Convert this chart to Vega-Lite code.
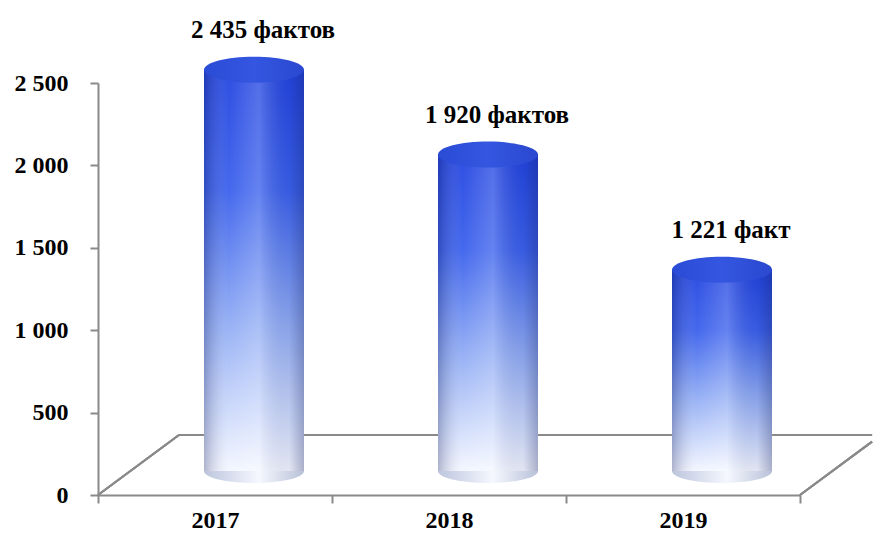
{
  "$schema": "https://vega.github.io/schema/vega-lite/v6.json",
  "width": 702,
  "height": 412,
  "padding": {"left": 14, "top": 17, "right": 0, "bottom": 0},
  "background": "white",
  "config": {"view": {"stroke": null}, "font": "Liberation Serif"},
  "data": {"values": [
    {"year": "2017", "count": 2435, "label": "2 435 фактов"},
    {"year": "2018", "count": 1920, "label": "1 920 фактов"},
    {"year": "2019", "count": 1221, "label": "1 221 факт"}
  ]},
  "layer": [
    {
      "layer": [
        {
          "mark": {"type": "rule", "color": "#8a8a8a", "strokeWidth": 2, "clip": false},
          "encoding": {
            "x": {"datum": 0, "type": "quantitative", "scale": {"domain": [0, 3], "nice": false, "zero": false}, "axis": null},
            "x2": {"datum": 0.346},
            "y": {"datum": 0, "type": "quantitative"},
            "y2": {"datum": 364}
          }
        },
        {
          "mark": {"type": "rule", "color": "#8a8a8a", "strokeWidth": 2, "clip": false},
          "encoding": {
            "x": {"datum": 0.346, "type": "quantitative", "scale": {"domain": [0, 3], "nice": false, "zero": false}, "axis": null},
            "x2": {"datum": 3.308},
            "y": {"datum": 364, "type": "quantitative"}
          }
        },
        {
          "mark": {"type": "rule", "color": "#8a8a8a", "strokeWidth": 2, "clip": false},
          "encoding": {
            "x": {"datum": 3, "type": "quantitative", "scale": {"domain": [0, 3], "nice": false, "zero": false}, "axis": null},
            "x2": {"datum": 3.308},
            "y": {"datum": 0, "type": "quantitative"},
            "y2": {"datum": 324}
          }
        }
      ]
    },
    {
      "encoding": {
        "x": {
          "field": "year", "type": "nominal",
          "scale": {"paddingInner": 0, "paddingOuter": 0},
          "axis": {
            "title": null, "labelAngle": 0, "labelFont": "Liberation Serif", "labelFontWeight": "bold",
            "labelFontSize": 24, "labelColor": "#000000", "labelPadding": 5, "tickBand": "extent",
            "tickSize": 8, "tickColor": "#8a8a8a", "tickWidth": 2, "domainColor": "#8a8a8a", "domainWidth": 2
          }
        },
        "y": {
          "field": "count", "type": "quantitative",
          "scale": {"domain": [0, 2500], "nice": false},
          "axis": {
            "title": null, "grid": false, "values": [0, 500, 1000, 1500, 2000, 2500],
            "labelExpr": "replace(format(datum.value, ','), ',', ' ')",
            "labelFont": "Liberation Serif", "labelFontWeight": "bold", "labelFontSize": 24, "labelColor": "#000000",
            "labelPadding": 22, "tickSize": 8, "tickColor": "#8a8a8a", "tickWidth": 2,
            "domainColor": "#8a8a8a", "domainWidth": 2
          }
        }
      },
      "layer": [
        {
          "mark": {
            "type": "point", "filled": true, "size": 10000, "opacity": 1, "yOffset": -24, "xOffset": 39,
            "shape": "M -1 0 A 1 0.24 0 1 1 1 0 A 1 0.24 0 1 1 -1 0 Z",
            "fill": {"gradient": "linear", "x1": 0, "y1": 0, "x2": 1, "y2": 0,
              "stops": [{"offset": 0, "color": "#bcc5dd"}, {"offset": 0.55, "color": "#f6f8ff"}, {"offset": 1, "color": "#b8c1d8"}]}
          },
          "encoding": {"y": {"datum": 0, "type": "quantitative"}}
        },
        {
          "mark": {
            "type": "bar", "size": 100, "xOffset": 39, "yOffset": -24, "y2Offset": -24,
            "color": {"gradient": "linear", "x1": 0, "y1": 0, "x2": 0, "y2": 1,
              "stops": [{"offset": 0, "color": "#2244e0"}, {"offset": 0.3, "color": "#3a60ec"}, {"offset": 0.62, "color": "#8eaaf4"}, {"offset": 1, "color": "#f4f7ff"}]}
          }
        },
        {
          "mark": {
            "type": "bar", "size": 100, "xOffset": 39, "yOffset": -24, "y2Offset": -24,
            "color": {"gradient": "linear", "x1": 0, "y1": 0, "x2": 1, "y2": 0,
              "stops": [{"offset": 0, "color": "rgba(20,30,90,0.30)"}, {"offset": 0.25, "color": "rgba(255,255,255,0.05)"}, {"offset": 0.55, "color": "rgba(255,255,255,0.22)"}, {"offset": 0.85, "color": "rgba(20,30,90,0.08)"}, {"offset": 1, "color": "rgba(20,30,90,0.32)"}]}
          }
        },
        {
          "mark": {
            "type": "point", "filled": true, "size": 10000, "opacity": 1, "yOffset": -24, "xOffset": 39,
            "shape": "M -1 0 A 1 0.26 0 1 1 1 0 A 1 0.26 0 1 1 -1 0 Z",
            "fill": {"gradient": "linear", "x1": 0, "y1": 0, "x2": 1, "y2": 0,
              "stops": [{"offset": 0, "color": "#2a4bd6"}, {"offset": 0.5, "color": "#3456e0"}, {"offset": 1, "color": "#2a48d0"}]}
          }
        },
        {
          "mark": {"type": "text", "font": "Liberation Serif", "fontWeight": "bold", "fontSize": 25, "color": "#000000",
            "baseline": "middle", "align": "center", "xOffset": 48, "yOffset": -64},
          "encoding": {"text": {"field": "label"}}
        }
      ]
    }
  ],
  "resolve": {"scale": {"x": "independent"}}
}
